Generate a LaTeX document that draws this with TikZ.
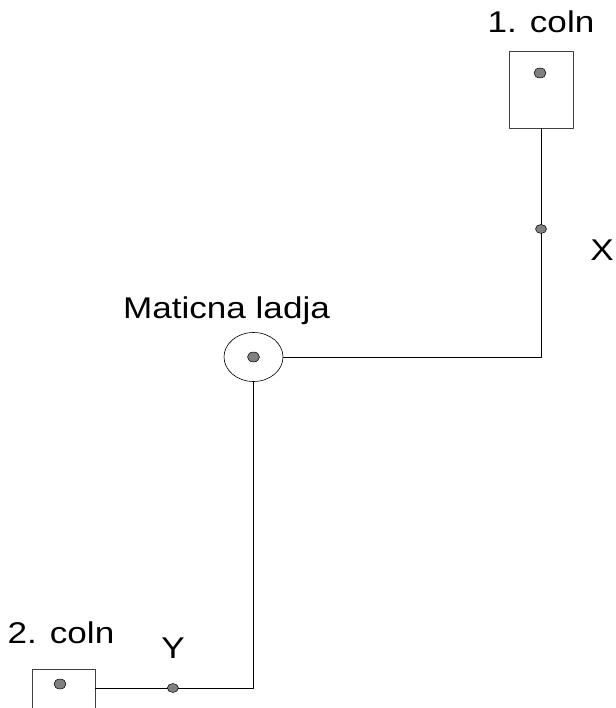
\documentclass[tikz,border=0pt]{standalone}
\usepackage{fontspec}
\usetikzlibrary{shapes.geometric}
\newfontfamily\labelfont[FakeStretch=1.17]{Liberation Sans}

\begin{document}
\begin{tikzpicture}[x = 1pt, y = -1pt, line cap = round, line join = round,
        wire/.style={line width = 0.8pt, black},
        boat/.style={draw = black!75, line width = 0.8pt, minimum width = 64pt, minimum height = 77pt, inner sep = 0pt},
        mark dot/.style={ellipse, draw = black, fill = black!50, line width = 0.5pt, minimum width = 12pt, minimum height = 10pt, inner sep = 0pt},
        caption/.style={anchor = base, inner sep = 0pt, font = \labelfont\fontsize{30}{36}\selectfont}]
        %
        \useasboundingbox (0, 0) rectangle (615, 708);
        %
        \def\PortX{541}
        \def\PortY{688}

        % boats
        \node [boat] (coln1) at (\PortX, 89.5) {};
        \node [mark dot] (coln1dot) at (540, 73) {};
        \node [boat, minimum width = 63pt] (coln2) at (63.5, 707.5) {};
        \node [mark dot] (coln2dot) at (60, 684) {};
        \node [ellipse, draw, line width = 0.6pt, minimum width = 59pt, minimum height = 49pt, inner sep = 0pt] (ship) at (253.5, 357) {};
        \node [mark dot] (shipdot) at (253.5, 357) {};
        \coordinate (coln2port) at (coln2.east |- 0, \PortY);

        % captions
        \node [caption] (coln1txt) at (541, 33) {1. coln};
        \node [caption] (shiptxt) at (226.5, 318) {Maticna ladja};
        \node [caption] (coln2txt) at (61, 643) {2. coln};
        \node [caption] (xtxt) at (602, 260) {X};
        \node [caption] (ytxt) at (173, 658) {Y};

        % routes
        \draw [wire] (coln1.south) |- node [mark dot, pos = 0.22, minimum width = 11pt, minimum height = 9pt] (xdot) {} (ship.east);
        \draw [wire] (ship.south) |- node [mark dot, pos = 0.755, minimum width = 11pt, minimum height = 9pt] (ydot) {} (coln2port);
    \end{tikzpicture}
\end{document}
